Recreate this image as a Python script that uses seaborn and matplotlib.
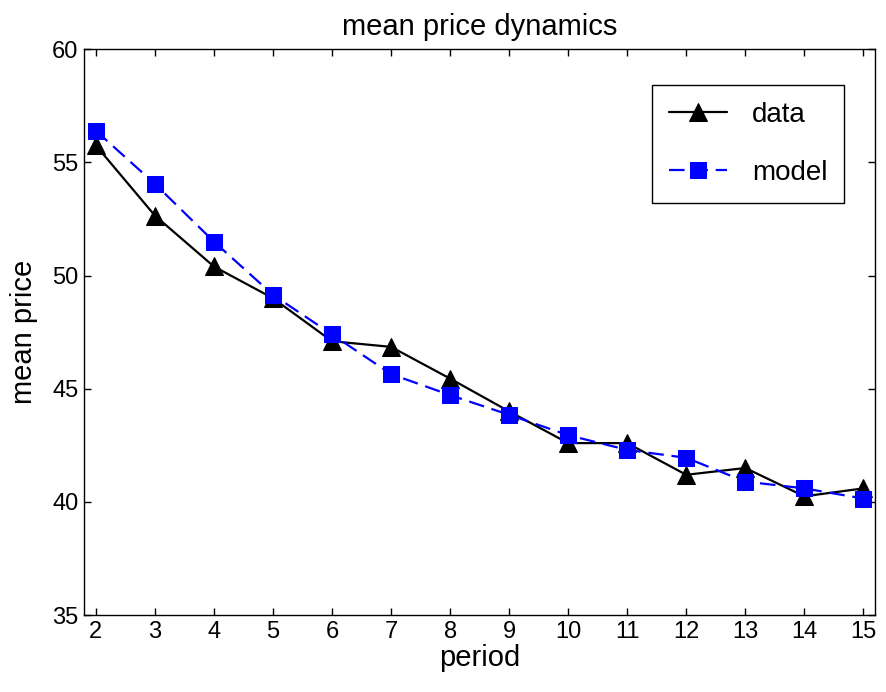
import pandas as pd
import matplotlib
matplotlib.use("Agg")
import matplotlib.pyplot as plt
import seaborn as sns

# values
periods = [2, 3, 4, 5, 6, 7, 8, 9, 10, 11, 12, 13, 14, 15]
data_price = [55.75, 52.65, 50.4, 49.0, 47.1, 46.85, 45.45, 44.0, 42.6, 42.6, 41.2, 41.5, 40.25, 40.6]
model_price = [56.4, 54.05, 51.5, 49.15, 47.4, 45.65, 44.72, 43.85, 42.95, 42.3, 41.95, 40.9, 40.6, 40.15]
y_ticks = [35, 40, 45, 50, 55, 60]

sns.set_theme(style="ticks")
plt.rcParams['font.family'] = ['Liberation Sans', 'DejaVu Sans']
plt.rcParams['xtick.direction'] = 'in'
plt.rcParams['ytick.direction'] = 'in'
plt.rcParams['text.color'] = 'black'
plt.rcParams['axes.labelcolor'] = 'black'
plt.rcParams['xtick.color'] = 'black'
plt.rcParams['ytick.color'] = 'black'

df = pd.DataFrame({'period': periods, 'data': data_price, 'model': model_price})

fig = plt.figure(figsize=(8.86, 6.92), dpi=100)
ax = fig.add_axes([0.0948, 0.111, 0.893, 0.818])

sns.lineplot(data=df, x='period', y='data', ax=ax, color='black', marker='^',
             markersize=13.5, markeredgecolor='black', linewidth=1.6, label='data')
sns.lineplot(data=df, x='period', y='model', ax=ax, color='#0000ff', marker='s',
             markersize=12, markeredgecolor='#0000ff', linewidth=1.6,
             dashes=(7, 3.5), label='model')

ax.set_xlim(1.8, 15.2)
ax.set_ylim(35, 60)
ax.set_xticks(periods)
ax.set_yticks(y_ticks)
ax.tick_params(axis='both', labelsize=17, length=5, width=1,
               top=True, right=True, pad=4)
for s in ax.spines.values():
    s.set_color('black')
    s.set_linewidth(1)

ax.set_title('mean price dynamics', fontsize=21, pad=10)
ax.set_xlabel('period', fontsize=21, labelpad=1)
ax.set_ylabel('mean price', fontsize=21, labelpad=10)

leg = ax.legend(loc='upper right', bbox_to_anchor=(0.961, 0.936), fontsize=20,
                frameon=True, fancybox=False, handlelength=2.1, handletextpad=0.9,
                labelspacing=1.15, borderpad=0.6, borderaxespad=0)
leg.get_frame().set_edgecolor('black')
leg.get_frame().set_linewidth(1)
leg.get_frame().set_alpha(1)

fig.savefig('out.png', dpi=100)
